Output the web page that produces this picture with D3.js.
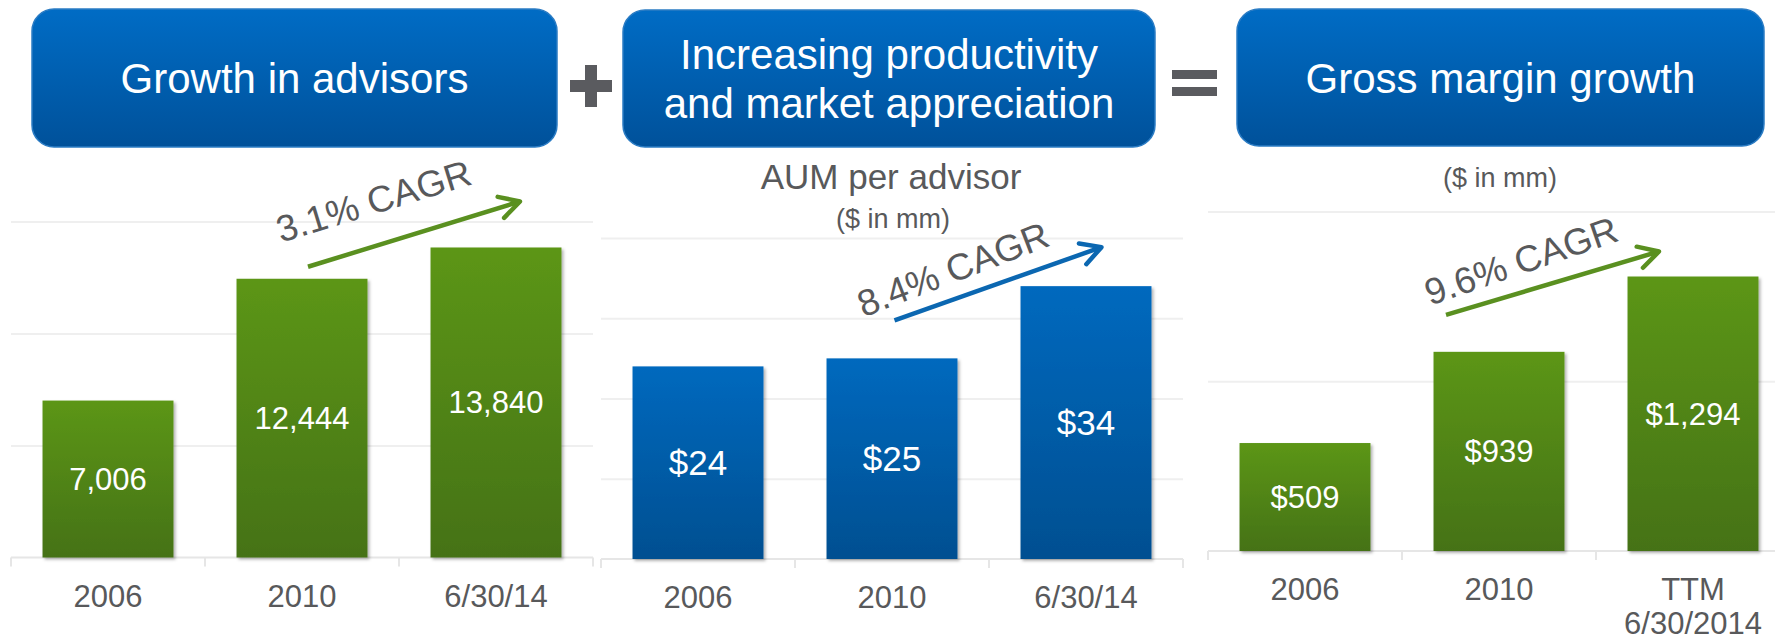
<!DOCTYPE html>
<html>
<head>
<meta charset="utf-8">
<script src="https://cdn.jsdelivr.net/npm/d3@7"></script>
<style>
body { margin: 0; background: #fff; }
text { font-family: "Liberation Sans", Arial, sans-serif; }
</style>
</head>
<body>
<script>
var width = 1775,
    height = 641;

// advisors panel
var advisorYears = ['2006', '2010', '6/30/14'],
    advisorCounts = [7006, 12444, 13840],
    advisorGrid = [5000, 10000, 15000];

// AUM per advisor panel ($mm)
var aumYears = ['2006', '2010', '6/30/14'],
    aumPerAdvisor = [24, 25, 34],
    aumGrid = [10, 20, 30, 40];

// gross margin panel ($mm)
var marginYears = ['2006', '2010', 'TTM|6/30/2014'],
    grossMargin = [509, 939, 1294],
    marginGrid = [800, 1600];

var headers = [['Growth in advisors'], ['Increasing productivity', 'and market appreciation'], ['Gross margin growth']],
    cagrLabels = ['3.1% CAGR', '8.4% CAGR', '9.6% CAGR'];

var grey = '#58595b';

var svg = d3.select('body').append('svg')
    .attr('width', width)
    .attr('height', height);

var defs = svg.append('defs');

function gradient(id, top, bottom) {
  var g = defs.append('linearGradient').attr('id', id)
    .attr('x1', 0).attr('y1', 0).attr('x2', 0).attr('y2', 1);
  g.append('stop').attr('offset', '0%').attr('stop-color', top);
  g.append('stop').attr('offset', '100%').attr('stop-color', bottom);
}
gradient('green', '#5c9619', '#457213');
gradient('blue', '#0069be', '#004f91');
gradient('box', '#006cc5', '#00519a');

defs.append('filter').attr('id', 'shadow')
    .attr('x', '-10%').attr('y', '-10%').attr('width', '130%').attr('height', '130%')
  .append('feDropShadow')
    .attr('dx', 2).attr('dy', 2).attr('stdDeviation', 1.5)
    .attr('flood-color', '#000').attr('flood-opacity', 0.3);

function arrowMarker(id, color) {
  defs.append('marker').attr('id', id)
    .attr('markerUnits', 'userSpaceOnUse')
    .attr('viewBox', '-24 -14 28 28')
    .attr('markerWidth', 28).attr('markerHeight', 28)
    .attr('orient', 'auto')
  .append('path')
    .attr('d', 'M-20,-11 L0,0 L-20,11')
    .attr('fill', 'none')
    .attr('stroke', color)
    .attr('stroke-width', 4.5)
    .attr('stroke-linecap', 'round')
    .attr('stroke-linejoin', 'round');
}
arrowMarker('arrowGreen', '#5a9020');
arrowMarker('arrowBlue', '#0b67b1');

// header boxes
var boxes = [
  {x: 32, y: 9, w: 525, h: 138},
  {x: 623, y: 10, w: 532, h: 137},
  {x: 1237, y: 9, w: 527, h: 137}
];

boxes.forEach(function(b, i) {
  svg.append('rect')
    .attr('x', b.x).attr('y', b.y)
    .attr('width', b.w).attr('height', b.h)
    .attr('rx', 22)
    .attr('fill', 'url(#box)')
    .attr('stroke', '#2b7cc4')
    .attr('stroke-width', 1.5);

  var lines = headers[i],
      lh = 49,
      first = b.y + b.h / 2 + 15 - (lines.length - 1) * lh / 2;

  svg.append('text')
    .attr('text-anchor', 'middle')
    .attr('fill', '#fff')
    .attr('font-size', 42)
    .selectAll('tspan')
    .data(lines)
    .enter().append('tspan')
    .attr('x', b.x + b.w / 2)
    .attr('y', function(d, j) { return first + j * lh; })
    .text(function(d) { return d; });
});

// plus and equals signs
svg.append('rect').attr('x', 570).attr('y', 80).attr('width', 42).attr('height', 12).attr('fill', '#5a5b5f');
svg.append('rect').attr('x', 585).attr('y', 65).attr('width', 12).attr('height', 42).attr('fill', '#5a5b5f');
svg.append('rect').attr('x', 1172).attr('y', 70).attr('width', 45).attr('height', 9).attr('fill', '#5a5b5f');
svg.append('rect').attr('x', 1172).attr('y', 87).attr('width', 45).attr('height', 9).attr('fill', '#5a5b5f');

// subtitles
svg.append('text').attr('x', 891).attr('y', 189).attr('text-anchor', 'middle')
  .attr('font-size', 35).attr('fill', grey).text('AUM per advisor');
svg.append('text').attr('x', 893).attr('y', 228).attr('text-anchor', 'middle')
  .attr('font-size', 27).attr('fill', grey).text('($ in mm)');
svg.append('text').attr('x', 1500).attr('y', 187).attr('text-anchor', 'middle')
  .attr('font-size', 27).attr('fill', grey).text('($ in mm)');

var panels = [
  {cats: advisorYears, vals: advisorCounts, grid: advisorGrid, max: 15000,
   xr: [11, 593], yr: [557.5, 221.5], fill: 'url(#green)', marker: 'arrowGreen', arrowColor: '#5a9020',
   fmt: d3.format(','), valueSize: 31,
   arrow: [6, -12, 24, -46], label: [-27, -24, -17]},
  {cats: aumYears, vals: aumPerAdvisor, grid: aumGrid, max: 40,
   xr: [601, 1183], yr: [559, 238], fill: 'url(#blue)', marker: 'arrowBlue', arrowColor: '#0b67b1',
   fmt: function(d) { return '$' + d; }, valueSize: 35,
   arrow: [2.5, -38, 15.5, -39], label: [-31, -3, -21]},
  {cats: marginYears, vals: grossMargin, grid: marginGrid, max: 1600,
   xr: [1208, 1790], yr: [551, 211.6], fill: 'url(#green)', marker: 'arrowGreen', arrowColor: '#5a9020',
   fmt: function(d) { return '$' + d3.format(',')(d); }, valueSize: 31,
   arrow: [-53, -37, -34, -25], label: [-16, -9, -19]}
];

panels.forEach(function(p, i) {
  var x = d3.scaleBand().domain(p.cats).range(p.xr).paddingInner(0.325).paddingOuter(0.1625),
      y = d3.scaleLinear().domain([0, p.max]).range(p.yr);

  var g = svg.append('g');

  // gridlines
  g.append('g')
    .attr('transform', 'translate(' + p.xr[0] + ',0)')
    .call(d3.axisLeft(y).tickValues(p.grid).tickSize(-(p.xr[1] - p.xr[0])).tickFormat(''))
    .call(function(a) { a.select('.domain').remove(); })
    .selectAll('line')
    .attr('stroke', '#efefef')
    .attr('stroke-width', 2);

  // baseline with category separators
  g.append('line')
    .attr('x1', p.xr[0]).attr('x2', p.xr[1])
    .attr('y1', y(0)).attr('y2', y(0))
    .attr('stroke', '#e6e6e6').attr('stroke-width', 2);

  g.selectAll('.sep')
    .data(d3.range(p.cats.length + 1))
    .enter().append('line')
    .attr('x1', function(d) { return p.xr[0] + d * x.step(); })
    .attr('x2', function(d) { return p.xr[0] + d * x.step(); })
    .attr('y1', y(0)).attr('y2', y(0) + 9)
    .attr('stroke', '#e6e6e6').attr('stroke-width', 2);

  // bars
  var data = p.cats.map(function(c, j) { return {cat: c, val: p.vals[j]}; });

  g.selectAll('.bar')
    .data(data)
    .enter().append('rect')
    .attr('x', function(d) { return x(d.cat); })
    .attr('y', function(d) { return y(d.val); })
    .attr('width', x.bandwidth())
    .attr('height', function(d) { return y(0) - y(d.val); })
    .attr('fill', p.fill)
    .attr('filter', 'url(#shadow)');

  g.selectAll('.val')
    .data(data)
    .enter().append('text')
    .attr('x', function(d) { return x(d.cat) + x.bandwidth() / 2; })
    .attr('y', function(d) { return (y(d.val) + y(0)) / 2; })
    .attr('dy', '0.35em')
    .attr('text-anchor', 'middle')
    .attr('fill', '#fff')
    .attr('font-size', p.valueSize)
    .text(function(d) { return p.fmt(d.val); });

  // category axis
  var axis = g.append('g')
    .attr('transform', 'translate(0,' + y(0) + ')')
    .call(d3.axisBottom(x).tickSize(0).tickPadding(27).tickFormat(''));
  axis.select('.domain').remove();

  axis.selectAll('.tick text')
    .attr('font-size', 31)
    .attr('fill', grey)
    .attr('font-family', '"Liberation Sans", Arial, sans-serif')
    .each(function(d) {
      var t = d3.select(this);
      d.split('|').forEach(function(line, k) {
        t.append('tspan').attr('x', 0).attr('dy', k === 0 ? '0.71em' : '1.1em').text(line);
      });
    })
    .attr('dy', null);

  // CAGR arrow
  var a = p.arrow,
      x2c = x(p.cats[1]) + x.bandwidth() / 2,
      x3c = x(p.cats[2]) + x.bandwidth() / 2,
      sx = x2c + a[0], sy = y(p.vals[1]) + a[1],
      ex = x3c + a[2], ey = y(p.vals[2]) + a[3];

  g.append('line')
    .attr('x1', sx).attr('y1', sy)
    .attr('x2', ex).attr('y2', ey)
    .attr('stroke', p.arrowColor)
    .attr('stroke-width', 4.5)
    .attr('marker-end', 'url(#' + p.marker + ')');

  var lx = sx + p.label[0], ly = sy + p.label[1];
  g.append('text')
    .attr('transform', 'translate(' + lx + ',' + ly + ') rotate(' + p.label[2] + ')')
    .attr('font-size', 37)
    .attr('fill', grey)
    .text(cagrLabels[i]);
});
</script>
</body>
</html>
